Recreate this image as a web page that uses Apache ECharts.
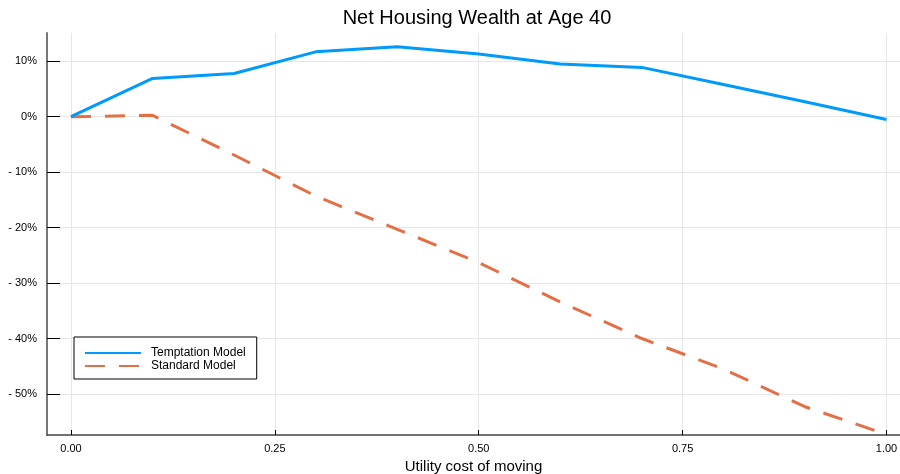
<!DOCTYPE html>
<html>
<head>
<meta charset="utf-8">
<script src="https://cdn.jsdelivr.net/npm/echarts@6/dist/echarts.min.js"></script>
<style>
  html, body { margin: 0; padding: 0; background: #fff; }
  #chart { width: 900px; height: 474px; }
</style>
</head>
<body>
<div id="chart"></div>
<script>
// Utility cost of moving (x) and net housing wealth change at age 40, in percent
const costs = [0.0, 0.1, 0.2, 0.3, 0.4, 0.5, 0.6, 0.7, 0.8, 0.9, 1.0];
const temptation = [0.0, 6.9, 7.8, 11.7, 12.6, 11.3, 9.5, 8.9, 5.8, 2.7, -0.5];
const standard = [0.0, 0.25, -6.9, -14.3, -20.3, -26.3, -33.4, -40.0, -45.5, -52.3, -57.3];
const xTicks = [0.0, 0.25, 0.5, 0.75, 1.0];
const yTicks = [10, 0, -10, -20, -30, -40, -50];
const seriesNames = ['Temptation Model', 'Standard Model'];

const FONT = '"Liberation Sans", Arial, Helvetica, sans-serif';

const chart = echarts.init(document.getElementById('chart'), null, { renderer: 'canvas' });

const pairs = (ys) => costs.map((x, i) => [x, ys[i]]);

chart.setOption({
  backgroundColor: '#ffffff',
  animation: false,
  title: {
    text: 'Net Housing Wealth at Age 40',
    left: 472,
    top: 3,
    textAlign: 'center',
    textStyle: { fontFamily: FONT, fontSize: 20, fontWeight: 'normal', color: '#000' }
  },
  grid: { left: 47, right: 0, top: 33, bottom: 39, containLabel: false, outerBoundsMode: 'none' },
  xAxis: {
    type: 'value',
    min: -0.0294,
    max: 1.0166,
    name: 'Utility cost of moving',
    nameLocation: 'middle',
    nameGap: 20,
    nameTextStyle: { fontFamily: FONT, fontSize: 15, color: '#000' },
    axisLine: { show: true, onZero: false, lineStyle: { color: '#444', width: 1.5 } },
    axisTick: { show: true, inside: true, length: 5, customValues: xTicks, lineStyle: { color: '#000', width: 1 } },
    axisLabel: {
      customValues: xTicks,
      margin: 8,
      fontFamily: FONT, fontSize: 11, color: '#000',
      formatter: (v) => v.toFixed(2)
    },
    splitLine: { show: true, lineStyle: { color: '#e6e6e6', width: 1 } }
  },
  yAxis: {
    type: 'value',
    min: -57.4,
    max: 15.1,
    axisLine: { show: true, onZero: false, lineStyle: { color: '#777', width: 2 } },
    axisTick: { show: true, inside: true, length: 13, customValues: yTicks, lineStyle: { color: '#000', width: 1 } },
    axisLabel: {
      customValues: yTicks,
      margin: 10,
      fontFamily: FONT, fontSize: 11, color: '#000',
      formatter: (v) => (v < 0 ? '- ' + Math.abs(v) + '%' : v + '%')
    },
    splitLine: { show: true, lineStyle: { color: '#e6e6e6', width: 1 } }
  },
  legend: {
    orient: 'vertical',
    left: 74,
    top: 337,
    padding: [10, 11, 7, 10],
    itemWidth: 56,
    itemHeight: 10,
    itemGap: 1,
    borderColor: '#000',
    borderWidth: 1,
    backgroundColor: '#fff',
    itemStyle: { opacity: 0 },
    textStyle: { fontFamily: FONT, fontSize: 12, color: '#000', padding: [0, 0, 0, 5] },
    data: seriesNames
  },
  series: [
    {
      name: seriesNames[0],
      type: 'line',
      data: pairs(temptation),
      symbol: 'none',
      color: '#009afa',
      lineStyle: { color: '#009afa', width: 3 },
      z: 3
    },
    {
      name: seriesNames[1],
      type: 'line',
      data: pairs(standard),
      symbol: 'none',
      color: '#e36f47',
      lineStyle: { color: '#e36f47', width: 3, type: [20, 14] },
      z: 2
    }
  ]
});
</script>
</body>
</html>
